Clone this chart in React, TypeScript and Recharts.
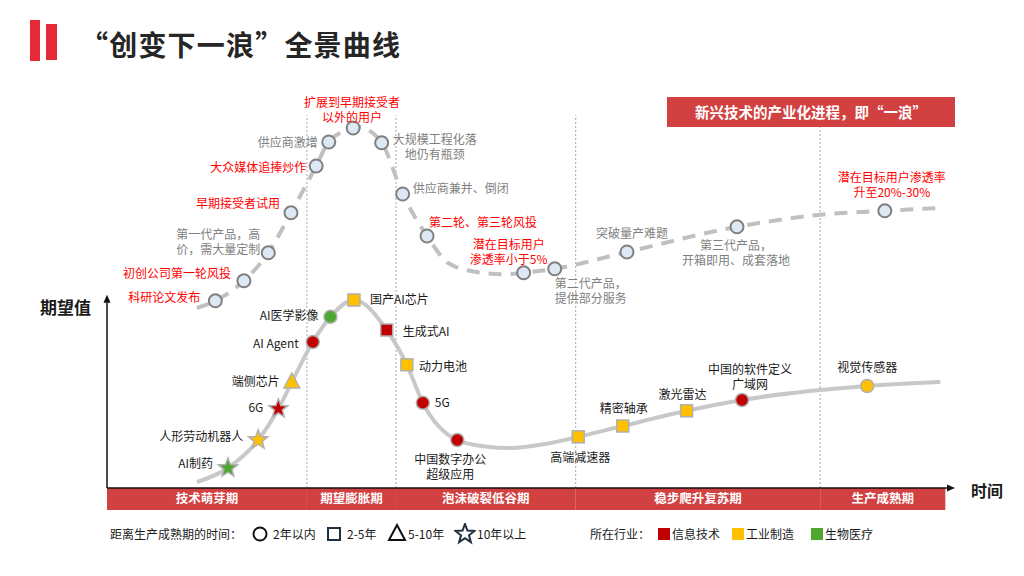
import React from "react";
import { ComposedChart, Line, Scatter, XAxis, YAxis, ReferenceArea, ReferenceLine } from "recharts";

// 阶段（底部红色条带）
const PHASES = ["技术萌芽期", "期望膨胀期", "泡沫破裂低谷期", "稳步爬升复苏期", "生产成熟期"];
const PHASE_EDGES = [0, 23.8, 34.4, 55.8, 84.9, 99.8];

// 上方虚线：新兴技术产业化进程（“一浪”）
const WAVE_EVENTS = [
  { text: "科研论文发布", x: 12.9, y: 46.8, red: true },
  { text: "初创公司第一轮风投", x: 16.3, y: 51.8, red: true },
  { text: "第一代产品，高\n价，需大量定制", x: 19.2, y: 58.8, red: false },
  { text: "早期接受者试用", x: 21.9, y: 68.8, red: true },
  { text: "大众媒体追捧炒作", x: 24.9, y: 80.5, red: true },
  { text: "供应商激增", x: 26.4, y: 86.5, red: false },
  { text: "扩展到早期接受者\n以外的用户", x: 29.3, y: 90.0, red: true },
  { text: "大规模工程化落\n地仍有瓶颈", x: 32.7, y: 86.3, red: false },
  { text: "供应商兼并、倒闭", x: 35.2, y: 73.5, red: false },
  { text: "第二轮、第三轮风投", x: 38.1, y: 63.0, red: true },
  { text: "潜在目标用户\n渗透率小于5%", x: 49.6, y: 53.8, red: true },
  { text: "第二代产品，\n提供部分服务", x: 53.3, y: 54.8, red: false },
  { text: "突破量产难题", x: 61.9, y: 59.0, red: false },
  { text: "第三代产品，\n开箱即用、成套落地", x: 75.0, y: 65.3, red: false },
  { text: "潜在目标用户渗透率\n升至20%-30%", x: 92.6, y: 69.3, red: true },
];
const WAVE_EXTRA = [
  { x: 10.7, y: 45.0 }, { x: 29.9, y: 90.3 }, { x: 40.8, y: 56.0 },
  { x: 44.6, y: 53.8 }, { x: 47.4, y: 53.4 }, { x: 84.9, y: 68.3 }, { x: 99.2, y: 70.0 },
];

// 下方实线：各项技术所处位置
const TECH_EVENTS = [
  { text: "AI制药", x: 14.4, y: 5.0, horizon: "10+", industry: "bio" },
  { text: "人形劳动机器人", x: 18.0, y: 12.0, horizon: "10+", industry: "mfg" },
  { text: "6G", x: 20.4, y: 19.8, horizon: "10+", industry: "it" },
  { text: "端侧芯片", x: 22.0, y: 26.5, horizon: "5-10", industry: "mfg" },
  { text: "AI Agent", x: 24.5, y: 36.5, horizon: "2", industry: "it" },
  { text: "AI医学影像", x: 26.6, y: 42.8, horizon: "2", industry: "bio" },
  { text: "国产AI芯片", x: 29.4, y: 47.0, horizon: "2-5", industry: "mfg" },
  { text: "生成式AI", x: 33.3, y: 39.5, horizon: "2-5", industry: "it" },
  { text: "动力电池", x: 35.7, y: 30.8, horizon: "2-5", industry: "mfg" },
  { text: "5G", x: 37.6, y: 21.3, horizon: "2", industry: "it" },
  { text: "中国数字办公\n超级应用", x: 41.7, y: 12.0, horizon: "2", industry: "it" },
  { text: "高端减速器", x: 56.1, y: 12.8, horizon: "2-5", industry: "mfg" },
  { text: "精密轴承", x: 61.4, y: 15.5, horizon: "2-5", industry: "mfg" },
  { text: "激光雷达", x: 69.0, y: 19.3, horizon: "2-5", industry: "mfg" },
  { text: "中国的软件定义\n广域网", x: 75.6, y: 22.0, horizon: "2", industry: "it" },
  { text: "视觉传感器", x: 90.5, y: 25.5, horizon: "2", industry: "mfg" },
];
const TECH_EXTRA = [
  { x: 10.7, y: 1.5 }, { x: 45.0, y: 10.4 }, { x: 48.0, y: 10.0 }, { x: 52.7, y: 11.2 }, { x: 99.2, y: 26.5 },
];

const HORIZONS = [
  { key: "2", label: "2年以内" }, { key: "2-5", label: "2-5年" },
  { key: "5-10", label: "5-10年" }, { key: "10+", label: "10年以上" },
];
const INDUSTRIES = [
  { key: "it", label: "信息技术" }, { key: "mfg", label: "工业制造" }, { key: "bio", label: "生物医疗" },
];

// ---- layout / style (not data) ----
const FONT = "'Noto Sans CJK SC', 'Noto Sans', sans-serif";
const RED = "#d24141";
const IND_COLOR: Record<string, string> = { it: "#c00000", mfg: "#ffc000", bio: "#4ea72e" };
// label offsets in px from marker: [dx, dy, anchor]
const WAVE_LABEL_POS: [number, number, string][] = [
  [-15, -4, "end"], [-13, -8, "end"], [-8, -19, "end"], [-11, -10, "end"], [-10, 0, "end"],
  [-11, -1, "end"], [-1, -27, "middle"], [53, -4, "middle"], [10, -7, "start"], [2, -15, "start"],
  [-15, -29, "middle"], [0, 14, "start"], [5, -20, "middle"], [-1, 18, "middle"], [7, -34, "middle"],
];
const TECH_LABEL_POS: [number, number, string][] = [
  [-15, -6, "end"], [-15, -5, "end"], [-15, -2, "end"], [-12, -2, "end"], [-14, 0, "end"],
  [-12, -2, "end"], [16, -2, "start"], [16, 0, "start"], [12, 1, "start"], [12, -1, "start"],
  [-7, 18, "middle"], [2, 20, "middle"], [1, -19, "middle"], [-4, -17, "middle"], [8, -32, "middle"],
  [0, -20, "middle"],
];

const wavePath = [...WAVE_EVENTS.map((e) => ({ x: e.x, y: e.y })), ...WAVE_EXTRA].sort((a, b) => a.x - b.x);
const techPath = [...TECH_EVENTS.map((e) => ({ x: e.x, y: e.y })), ...TECH_EXTRA].sort((a, b) => a.x - b.x);

function starPoints(cx: number, cy: number, R: number, r: number) {
  const pts: string[] = [];
  for (let i = 0; i < 10; i++) {
    const a = -Math.PI / 2 + (i * Math.PI) / 5;
    const rad = i % 2 === 0 ? R : r;
    pts.push(`${cx + rad * Math.cos(a)},${cy + rad * Math.sin(a)}`);
  }
  return pts.join(" ");
}

function Label({ x, y, anchor, text, color, lh }: any) {
  return (
    <g>
      {String(text).split("\n").map((ln: string, i: number) => (
        <text key={i} x={x} y={y + i * lh} textAnchor={anchor} dominantBaseline="central"
          fontSize={12} fill={color} fontFamily={FONT}>{ln}</text>
      ))}
    </g>
  );
}

function WaveDot(props: any) {
  const { cx, cy, payload } = props;
  const i = WAVE_EVENTS.findIndex((e) => e.text === payload.text);
  const [dx, dy, anchor] = WAVE_LABEL_POS[i];
  return (
    <g>
      <circle cx={cx} cy={cy} r={6.5} fill="#dce8f4" stroke="#808080" strokeWidth={2} />
      <Label x={cx + dx} y={cy + dy} anchor={anchor} text={payload.text} color={payload.red ? "#ff0000" : "#7f7f7f"} lh={15} />
    </g>
  );
}

function TechMark({ cx, cy, horizon, fill, stroke, sw }: any) {
  if (horizon === "2") return <circle cx={cx} cy={cy} r={6.5} fill={fill} stroke={stroke} strokeWidth={sw} />;
  if (horizon === "2-5") return <rect x={cx - 6} y={cy - 6} width={12} height={12} fill={fill} stroke={stroke} strokeWidth={sw} />;
  if (horizon === "5-10") return <polygon points={`${cx},${cy - 9} ${cx + 8},${cy + 6} ${cx - 8},${cy + 6}`} fill={fill} stroke={stroke} strokeWidth={sw} />;
  return <polygon points={starPoints(cx, cy, 10, 4.2)} fill={fill} stroke={stroke} strokeWidth={sw} />;
}

function TechDot(props: any) {
  const { cx, cy, payload } = props;
  const i = TECH_EVENTS.findIndex((e) => e.text === payload.text);
  const [dx, dy, anchor] = TECH_LABEL_POS[i];
  return (
    <g>
      <TechMark cx={cx} cy={cy} horizon={payload.horizon} fill={IND_COLOR[payload.industry]} stroke="#b0b0b0" sw={1.5} />
      <Label x={cx + dx} y={cy + dy} anchor={anchor} text={payload.text} color="#1a1a1a" lh={15} />
    </g>
  );
}

function Arrow(props: any) {
  const { x1, y1, x2, y2 } = props;
  const len = Math.hypot(x2 - x1, y2 - y1) || 1;
  const ux = (x2 - x1) / len, uy = (y2 - y1) / len;
  const bx = x2 - ux * 8, by = y2 - uy * 8;
  const px = -uy * 3.5, py = ux * 3.5;
  return (
    <g>
      <line x1={x1} y1={y1} x2={bx} y2={by} stroke="#111" strokeWidth={1.5} />
      <polygon points={`${x2},${y2} ${bx + px},${by + py} ${bx - px},${by - py}`} fill="#111" />
    </g>
  );
}

const abs = (l: number, t: number, extra: any = {}) => ({ position: "absolute" as const, left: l, top: t, ...extra });

export default function App() {
  return (
    <div style={{ position: "absolute", left: 0, top: 0, width: 1024, height: 576, background: "#fff", fontFamily: FONT, color: "#1a1a1a" }}>
      {/* title */}
      <div style={abs(30, 20, { width: 10, height: 41, background: "#e52b35" })} />
      <div style={abs(46, 24, { width: 11, height: 36, background: "#e52b35" })} />
      <div style={abs(80, 25, { fontSize: 28, lineHeight: "38px", fontWeight: 700, letterSpacing: 1.2, color: "#262626", whiteSpace: "nowrap" })}>“创变下一浪”全景曲线</div>

      <ComposedChart width={1024} height={576} margin={{ top: 88, right: 60.2, bottom: 64, left: 107 }}>
        <XAxis type="number" dataKey="x" domain={[0, 102]} hide />
        <YAxis type="number" dataKey="y" domain={[-6, 100]} hide />
        {PHASES.map((p, i) => (
          <ReferenceArea key={p} x1={PHASE_EDGES[i]} x2={PHASE_EDGES[i + 1]} y1={-5.5} y2={0} fill={RED} fillOpacity={1} stroke="none"
            label={{ value: p, position: "center", fill: "#fff", fontSize: 12.5, fontWeight: 700, fontFamily: FONT }} />
        ))}
        {PHASE_EDGES.slice(1, 5).map((e, i) => (
          <ReferenceLine key={e} segment={[{ x: e, y: 0 }, { x: e, y: i === 3 ? 90.2 : 93.2 }]} stroke="#a6a6a6" strokeDasharray="2 2" strokeWidth={1} />
        ))}
        <ReferenceLine segment={[{ x: 0, y: 0 }, { x: 0, y: 48.3 }]} shape={Arrow} />
        <ReferenceLine segment={[{ x: 0, y: 0 }, { x: 100.95, y: 0 }]} shape={Arrow} />
        <Line data={wavePath} dataKey="y" type="monotone" stroke="#c0c0c0" strokeWidth={4} strokeDasharray="13 9" dot={false} isAnimationActive={false} />
        <Line data={techPath} dataKey="y" type="monotone" stroke="#c8c8c8" strokeWidth={4} dot={false} isAnimationActive={false} />
        <Scatter data={WAVE_EVENTS} dataKey="y" shape={WaveDot} isAnimationActive={false} />
        <Scatter data={TECH_EVENTS} dataKey="y" shape={TechDot} isAnimationActive={false} />
      </ComposedChart>

      {/* axis titles */}
      <div style={abs(40, 296, { fontSize: 17, lineHeight: "22px", fontWeight: 700 })}>期望值</div>
      <div style={abs(971, 479, { fontSize: 16, lineHeight: "22px", fontWeight: 700 })}>时间</div>

      {/* top-right banner */}
      <div style={abs(667, 97, { width: 288, height: 30, background: RED, color: "#fff", fontSize: 14.5, fontWeight: 700, lineHeight: "30px", textAlign: "center", whiteSpace: "nowrap" })}>
        新兴技术的产业化进程，即“一浪”
      </div>

      {/* legend */}
      <div style={abs(110, 525, { fontSize: 12, lineHeight: "18px", whiteSpace: "nowrap" })}>距离生产成熟期的时间：</div>
      {HORIZONS.map((h, i) => {
        const ix = [260, 334, 397, 465][i];
        const tx = [273, 347, 408, 477][i];
        return (
          <React.Fragment key={h.key}>
            <svg style={abs(ix - 11, 523)} width={22} height={22}>
              <TechMark cx={11} cy={11} horizon={h.key} fill="none" stroke={i === 0 || i === 2 ? "#111" : "#1f3040"} sw={2} />
            </svg>
            <div style={abs(tx, 525, { fontSize: 12, lineHeight: "18px", whiteSpace: "nowrap" })}>{h.label}</div>
          </React.Fragment>
        );
      })}
      <div style={abs(590, 525, { fontSize: 12, lineHeight: "18px", whiteSpace: "nowrap" })}>所在行业：</div>
      {INDUSTRIES.map((d, i) => {
        const ix = [664, 738, 817][i];
        return (
          <React.Fragment key={d.key}>
            <div style={abs(ix - 6, 528, { width: 12, height: 12, background: IND_COLOR[d.key] })} />
            <div style={abs(ix + 8, 525, { fontSize: 12, lineHeight: "18px", whiteSpace: "nowrap" })}>{d.label}</div>
          </React.Fragment>
        );
      })}
    </div>
  );
}
